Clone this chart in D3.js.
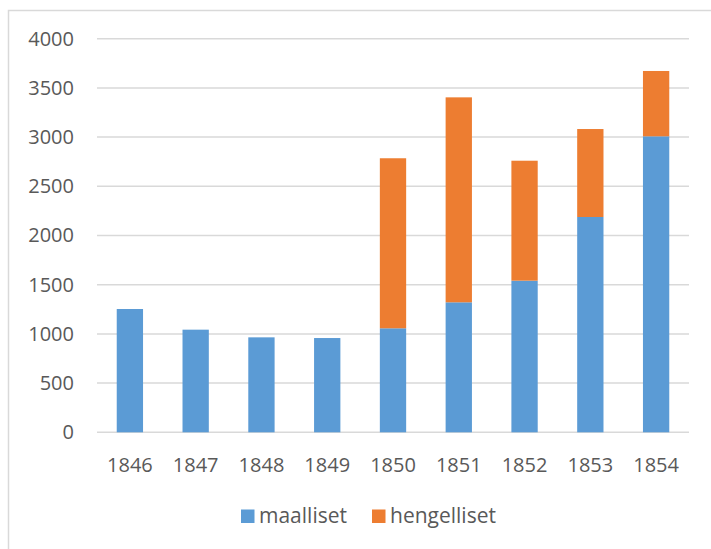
<!DOCTYPE html>
<html>
<head>
<meta charset="utf-8">
<script src="https://cdn.jsdelivr.net/npm/d3@7"></script>
<style>
  body { margin: 0; background: #fff; }
  text { font-family: "Open Sans", "Liberation Sans", sans-serif; fill: #595959; }
</style>
</head>
<body>
<div id="chart"></div>
<script>
var years = ["1846", "1847", "1848", "1849", "1850", "1851", "1852", "1853", "1854"];
var maalliset = [1253, 1043, 965, 958, 1057, 1321, 1541, 2188, 3008];
var hengelliset = [0, 0, 0, 0, 1728, 2083, 1219, 894, 664];
var yTicks = [0, 500, 1000, 1500, 2000, 2500, 3000, 3500, 4000];
var seriesNames = ["maalliset", "hengelliset"];
var colors = ["#5B9BD5", "#ED7D31"];

var w = 711;
var h = 549;

var plotLeft = 97;
var plotRight = 689;
var plotTop = 38.7;
var plotBottom = 432.3;

var svg = d3.select("#chart")
  .append("svg")
  .attr("width", w)
  .attr("height", h);

// chart border (runs off the picture on the right and bottom)
svg.append("rect")
  .attr("x", 8.5)
  .attr("y", 10.5)
  .attr("width", 720)
  .attr("height", 560)
  .attr("fill", "none")
  .attr("stroke", "#D9D9D9")
  .attr("stroke-width", 1.5);

var xScale = d3.scaleBand()
  .domain(years)
  .range([plotLeft, plotRight])
  .paddingInner(0.6)
  .paddingOuter(0.3);

var yScale = d3.scaleLinear()
  .domain([0, 4000])
  .range([plotBottom, plotTop]);

// gridlines
svg.append("g")
  .selectAll("line")
  .data(yTicks)
  .enter()
  .append("line")
  .attr("x1", plotLeft)
  .attr("x2", plotRight)
  .attr("y1", function(d) { return yScale(d); })
  .attr("y2", function(d) { return yScale(d); })
  .attr("stroke", "#D9D9D9")
  .attr("stroke-width", 1.5);

// y labels
var yAxis = d3.axisLeft(yScale)
  .tickValues(yTicks)
  .tickFormat(d3.format("d"))
  .tickSize(0)
  .tickPadding(23);
var gy = svg.append("g")
  .attr("transform", "translate(" + plotLeft + ",0)")
  .call(yAxis);
gy.select(".domain").remove();
gy.selectAll("text")
  .attr("font-size", 20)
  .attr("fill", "#595959")
  .style("font-family", "'Open Sans', 'Liberation Sans', sans-serif");

// x labels
var xAxis = d3.axisBottom(xScale).tickSize(0).tickPadding(26);
var gx = svg.append("g")
  .attr("transform", "translate(0," + plotBottom + ")")
  .call(xAxis);
gx.select(".domain").remove();
gx.selectAll("text")
  .attr("font-size", 20)
  .attr("fill", "#595959")
  .style("font-family", "'Open Sans', 'Liberation Sans', sans-serif");

// stacked bars
var rows = years.map(function(y, i) {
  return { year: y, maalliset: maalliset[i], hengelliset: hengelliset[i] };
});
var stacked = d3.stack().keys(seriesNames)(rows);

svg.append("g")
  .selectAll("g")
  .data(stacked)
  .enter()
  .append("g")
  .attr("fill", function(d, i) { return colors[i]; })
  .selectAll("rect")
  .data(function(d) { return d.filter(function(p) { return p[1] > p[0]; }); })
  .enter()
  .append("rect")
  .attr("x", function(d) { return xScale(d.data.year); })
  .attr("width", xScale.bandwidth())
  .attr("y", function(d) { return yScale(d[1]); })
  .attr("height", function(d) { return yScale(d[0]) - yScale(d[1]); });

// legend
var legendX = [241, 372];
var legend = svg.append("g");
seriesNames.forEach(function(name, i) {
  legend.append("rect")
    .attr("x", legendX[i])
    .attr("y", 509.5)
    .attr("width", 13.5)
    .attr("height", 13.5)
    .attr("fill", colors[i]);
  legend.append("text")
    .attr("x", legendX[i] + 18)
    .attr("y", 523)
    .attr("font-size", 21)
    .text(name);
});
</script>
</body>
</html>
